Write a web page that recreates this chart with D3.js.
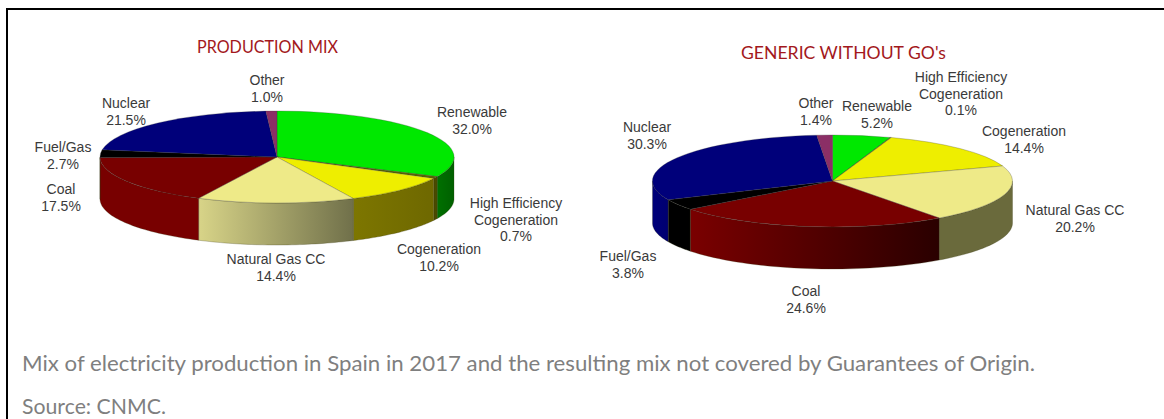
<!DOCTYPE html>
<html lang="en">

<head>
    <title>Mix of electricity production</title>
    <meta charset="UTF-8">
    <script src="https://cdn.jsdelivr.net/npm/d3@7/dist/d3.min.js"></script>
    <style>
        html, body {
            margin: 0;
            padding: 0;
            background: #fff;
            overflow: hidden;
        }

        svg {
            display: block;
        }

        .title {
            font-family: Lato, sans-serif;
            font-size: 17.5px;
            fill: #a3181c;
            text-anchor: middle;
        }

        .label {
            font-family: "Liberation Sans", Arial, sans-serif;
            font-size: 14px;
            fill: #3a3a3a;
            text-anchor: middle;
        }

        .caption {
            font-family: Lato, sans-serif;
            font-size: 22px;
            fill: #7f7f7f;
        }
    </style>
</head>

<body>
    <div id="wrap"></div>
    <script>
        // data
        var categories = ['Renewable', 'High Efficiency Cogeneration', 'Cogeneration', 'Natural Gas CC', 'Coal', 'Fuel/Gas', 'Nuclear', 'Other'];
        var productionValues = [32.0, 0.7, 10.2, 14.4, 17.5, 2.7, 21.5, 1.0];
        var genericValues = [5.2, 0.1, 14.4, 20.2, 24.6, 3.8, 30.3, 1.4];
        var captions = ['Mix of electricity production in Spain in 2017 and the resulting mix not covered by Guarantees of Origin.', 'Source: CNMC.'];

        // colours: top face, then the wall shading left to right for each pie
        var topColors = ['#00e800', '#5a6a00', '#eeee00', '#eeea88', '#780000', '#000000', '#00007a', '#8b2f66'];
        var productionWallLeft = ['#007000', '#4a4a00', '#7d7600', '#d8d488', '#780000', '#000000', '#00007a', '#6a2050'];
        var productionWallRight = ['#006000', '#4a4a00', '#6e6800', '#70704a', '#780000', '#000000', '#000070', '#6a2050'];
        var genericWallLeft = ['#007000', '#4a4a00', '#7d7600', '#6a6a3c', '#7a0000', '#000000', '#00007a', '#6a2050'];
        var genericWallRight = ['#006000', '#4a4a00', '#6e6800', '#6a6a3c', '#2a0000', '#000000', '#000070', '#6a2050'];

        var WIDTH = 1164,
            HEIGHT = 419,
            DEPTH = 42;

        // label rows are placed by hand, same order as categories
        var productionLabels = [[472, 117], [516, 208], [439, 254], [276, 264], [61, 194], [63, 152], [126, 108], [267, 85]];
        var genericLabels = [[877, 111], [961, 82], [1024, 136], [1075, 215], [806, 296], [628, 261], [647, 132], [816, 108]];
        var captionWidths = [1013, 144];

        var svg = d3.select('#wrap').append('svg').attr('width', WIDTH).attr('height', HEIGHT);
        var defs = svg.append('defs');

        // frame, open on the right and at the bottom
        svg.append('path')
            .attr('d', 'M7,419V9H1164')
            .attr('fill', 'none')
            .attr('stroke', '#000')
            .attr('stroke-width', 2);

        var pie = d3.pie().sort(null).value(function(d) {
            return d;
        }).startAngle(0).endAngle(2 * Math.PI);

        function drawPie(id, values, cx, cy, rx, ry, labels, wallLeft, wallRight, title, titleX, titleY, titleWidth) {
            var g = svg.append('g').attr('class', id);
            var arcs = pie(values);
            var pt = function(a, dy) {
                return [cx + rx * Math.sin(a), cy - ry * Math.cos(a) + (dy || 0)];
            };

            // walls, only the front half of the rim shows
            arcs.forEach(function(d, i) {
                var a0 = Math.max(d.startAngle, Math.PI / 2),
                    a1 = Math.min(d.endAngle, 3 * Math.PI / 2);
                if (a1 <= a0) return;
                var rim = d3.range(0, 41).map(function(k) {
                    return a0 + (a1 - a0) * k / 40;
                });
                var pts = rim.map(function(a) {
                    return pt(a);
                }).concat(rim.slice().reverse().map(function(a) {
                    return pt(a, DEPTH);
                }));
                var gid = id + '-wall' + i;
                var grad = defs.append('linearGradient')
                    .attr('id', gid)
                    .attr('gradientUnits', 'userSpaceOnUse')
                    .attr('x1', pt(a1)[0]).attr('y1', 0)
                    .attr('x2', pt(a0)[0]).attr('y2', 0);
                grad.append('stop').attr('offset', '0%').attr('stop-color', wallLeft[i]);
                grad.append('stop').attr('offset', '100%').attr('stop-color', wallRight[i]);
                g.append('path')
                    .attr('d', d3.line()(pts) + 'Z')
                    .attr('fill', 'url(#' + gid + ')')
                    .attr('stroke', '#3a3a10')
                    .attr('stroke-opacity', 0.45)
                    .attr('stroke-width', 0.6);
            });

            // top face
            var arc = d3.arc().innerRadius(0).outerRadius(1);
            g.append('g')
                .attr('transform', 'translate(' + cx + ',' + cy + ') scale(' + rx + ',' + ry + ')')
                .selectAll('path')
                .data(arcs)
                .enter()
                .append('path')
                .attr('d', arc)
                .attr('fill', function(d, i) {
                    return topColors[i];
                })
                .attr('stroke', '#333')
                .attr('stroke-opacity', 0.45)
                .attr('stroke-width', 0.6)
                .attr('vector-effect', 'non-scaling-stroke');

            // labels
            var text = g.append('g').selectAll('text')
                .data(categories)
                .enter()
                .append('text')
                .attr('class', 'label')
                .attr('transform', function(d, i) {
                    return 'translate(' + labels[i][0] + ',' + labels[i][1] + ')';
                });
            text.each(function(d, i) {
                var rows = d === 'High Efficiency Cogeneration' ? ['High Efficiency', 'Cogeneration'] : [d];
                rows.push(d3.format('.1f')(values[i]) + '%');
                d3.select(this).selectAll('tspan')
                    .data(rows)
                    .enter()
                    .append('tspan')
                    .attr('x', 0)
                    .attr('y', function(r, k) {
                        return k * 16.5;
                    })
                    .text(function(r) {
                        return r;
                    });
            });

            g.append('text')
                .attr('class', 'title')
                .attr('x', titleX)
                .attr('y', titleY)
                .attr('textLength', titleWidth)
                .attr('lengthAdjust', 'spacingAndGlyphs')
                .text(title);
        }

        drawPie('production', productionValues, 277, 157, 177, 46, productionLabels, productionWallLeft, productionWallRight, 'PRODUCTION MIX', 267.5, 53, 141);
        drawPie('generic', genericValues, 832.5, 181, 180, 46, genericLabels, genericWallLeft, genericWallRight, "GENERIC WITHOUT GO's", 843.5, 59, 205);

        svg.selectAll('.caption')
            .data(captions)
            .enter()
            .append('text')
            .attr('class', 'caption')
            .attr('x', 22)
            .attr('y', function(d, i) {
                return 371 + i * 43;
            })
            .attr('textLength', function(d, i) {
                return captionWidths[i];
            })
            .attr('lengthAdjust', 'spacingAndGlyphs')
            .text(function(d) {
                return d;
            });
    </script>

</body>

</html>
